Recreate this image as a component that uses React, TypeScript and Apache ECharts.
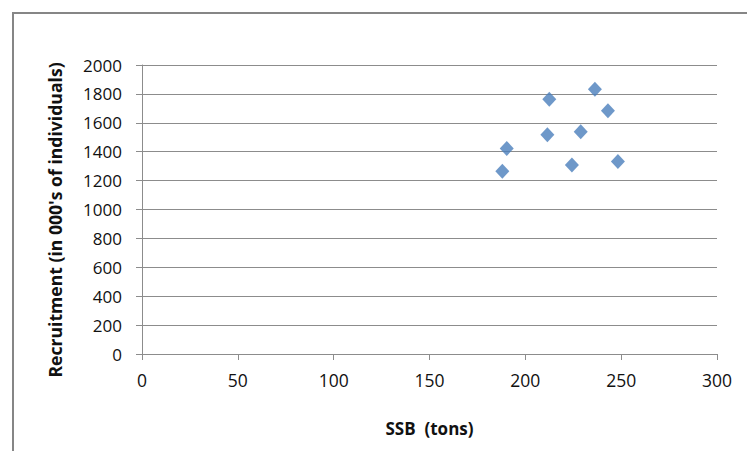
import React, { useEffect, useRef } from "react";
import * as echarts from "echarts";

// Spawning stock biomass (tons) and recruitment (thousands of individuals)
const ssb: number[] = [188, 190.3, 212.5, 211.5, 224.3, 228.9, 236.3, 243.1, 248.3];
const recruitment: number[] = [1264, 1423, 1763, 1517, 1308, 1538, 1832, 1683, 1333];

const xTicks = { min: 0, max: 300, interval: 50 };
const yTicks = { min: 0, max: 2000, interval: 200 };

const xTitle = "SSB  (tons)";
const yTitle = "Recruitment (in 000's of individuals)";

const FONT = "'Open Sans', 'Liberation Sans', sans-serif";
const GRID_GRAY = "#8c8c8c";
const TEXT = "#111111";

export default function App() {
  const ref = useRef<HTMLDivElement>(null);

  useEffect(() => {
    if (!ref.current) return;
    const chart = echarts.init(ref.current, undefined, { renderer: "svg" });
    const points = ssb.map((x, i) => [x, recruitment[i]]);

    chart.setOption({
      animation: false,
      backgroundColor: "#ffffff",
      textStyle: { fontFamily: FONT },
      grid: { left: 142, right: 38, top: 65, bottom: 105 },
      graphic: [
        {
          type: "polyline",
          shape: { points: [[13, 470], [13, 13], [770, 13]] },
          style: { stroke: "#868686", lineWidth: 2, fill: "none" },
          silent: true,
        },
        {
          type: "text",
          x: 55,
          y: 220,
          rotation: Math.PI / 2,
          silent: true,
          style: {
            text: yTitle,
            fontFamily: FONT,
            fontSize: 17.6,
            fontWeight: "bold",
            fill: TEXT,
            align: "center",
            verticalAlign: "middle",
          },
        },
      ],
      xAxis: {
        type: "value",
        min: xTicks.min,
        max: xTicks.max,
        interval: xTicks.interval,
        name: xTitle,
        nameLocation: "middle",
        nameGap: 66,
        nameTextStyle: { fontFamily: FONT, fontSize: 17, fontWeight: "bold", color: TEXT },
        axisLine: { show: true, lineStyle: { color: GRID_GRAY, width: 1 } },
        axisTick: { show: true, length: 6, lineStyle: { color: GRID_GRAY } },
        axisLabel: {
          fontFamily: FONT,
          fontSize: 17.5,
          color: TEXT,
          margin: 17,
          formatter: (v: number) => String(v),
        },
        splitLine: { show: false },
      },
      yAxis: {
        type: "value",
        min: yTicks.min,
        max: yTicks.max,
        interval: yTicks.interval,
        axisLine: { show: true, lineStyle: { color: GRID_GRAY, width: 1 } },
        axisTick: { show: true, length: 6, lineStyle: { color: GRID_GRAY } },
        axisLabel: {
          fontFamily: FONT,
          fontSize: 17,
          color: TEXT,
          margin: 20,
          formatter: (v: number) => String(v),
        },
        splitLine: { show: true, lineStyle: { color: GRID_GRAY, width: 1 } },
      },
      series: [
        {
          type: "scatter",
          data: points,
          symbol: "diamond",
          symbolSize: [14, 15],
          itemStyle: { color: "#4a7ebb" },
        },
      ],
    });

    return () => chart.dispose();
  }, []);

  return <div ref={ref} style={{ width: 755, height: 459, margin: -8 }} />;
}
